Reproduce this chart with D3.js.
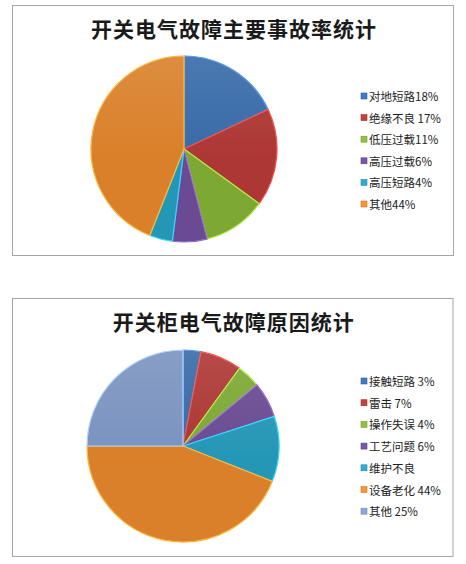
<!DOCTYPE html>
<html>
<head>
<meta charset="utf-8">
<script src="https://cdn.jsdelivr.net/npm/d3@7"></script>
<style>
  body { margin: 0; background: #ffffff; }
  svg { display: block; }
</style>
</head>
<body>
<div id="chart"></div>
<script>
// data
var topTitle = "开关电气故障主要事故率统计";
var topLabels = ["对地短路18%", "绝缘不良 17%", "低压过载11%", "高压过载6%", "高压短路4%", "其他44%"];
var topValues = [18, 17, 11, 6, 4, 44];

var bottomTitle = "开关柜电气故障原因统计";
var bottomLabels = ["接触短路 3%", "雷击 7%", "操作失误 4%", "工艺问题 6%", "维护不良", "设备老化 44%", "其他 25%"];
var bottomValues = [3, 7, 4, 6, 11, 44, 25];   // 维护不良 has no label, taken as the rest

var COLORS = ["#3F7AC2", "#C8403C", "#90C23C", "#7A56AA", "#2BAED2", "#FC9430", "#8DA9DC"];

var W = 466, H = 564;
var svg = d3.select("#chart")
            .append("svg")
              .attr("width", W)
              .attr("height", H);
var defs = svg.append("defs");

function pie_chart(id, box, title, titleY, labels, values, center, radius, legendX, legendY, legendStep) {
  var g = svg.append("g").attr("class", id);

  // frame
  g.append("rect")
      .attr("x", box.x)
      .attr("y", box.y)
      .attr("width", box.w)
      .attr("height", box.h)
      .attr("fill", "#ffffff")
      .attr("stroke", "#a6a6a6")
      .attr("stroke-width", 1);

  g.append("text")
      .attr("x", box.x + box.w / 2 + 1)
      .attr("y", titleY)
      .attr("text-anchor", "middle")
      .attr("dominant-baseline", "central")
      .attr("font-family", "Noto Sans CJK SC")
      .attr("font-weight", "bold")
      .attr("font-size", "21px")
      .attr("letter-spacing", "1px")
      .attr("fill", "#1a1a1a")
      .text(title);

  // one radial gradient per slice colour, gives the bevelled rim
  COLORS.forEach(function(c, i) {
    var gr = defs.append("radialGradient")
        .attr("id", id + "-grad" + i)
        .attr("gradientUnits", "userSpaceOnUse")
        .attr("cx", center.x)
        .attr("cy", center.y)
        .attr("r", radius);
    var base = d3.color(c);
    gr.append("stop").attr("offset", "0").attr("stop-color", base);
    gr.append("stop").attr("offset", "0.88").attr("stop-color", base);
    gr.append("stop").attr("offset", "0.95").attr("stop-color", base.brighter(0.3));
    gr.append("stop").attr("offset", "1").attr("stop-color", base.darker(0.4));
  });

  var pie = d3.pie().sort(null).value(function(d) { return d; });
  var arc = d3.arc().innerRadius(0).outerRadius(radius);
  var arcs = pie(values);

  var pg = g.append("g")
      .attr("transform", "translate(" + center.x + "," + center.y + ")");

  pg.selectAll("path.slice")
    .data(arcs)
    .enter()
    .append("path")
      .attr("class", "slice")
      .attr("d", arc)
      .attr("fill", function(d, i) { return "url(#" + id + "-grad" + i + ")"; })
      .attr("stroke", function(d, i) { return d3.color(COLORS[i]).brighter(0.6); })
      .attr("stroke-width", 1.2)
      .attr("stroke-linejoin", "round");

  // a little light from the top
  var shade = defs.append("linearGradient")
      .attr("id", id + "-shade")
      .attr("x1", 0).attr("y1", 0).attr("x2", 0).attr("y2", 1);
  shade.append("stop").attr("offset", "0").attr("stop-color", "#ffffff").attr("stop-opacity", 0.1);
  shade.append("stop").attr("offset", "0.55").attr("stop-color", "#ffffff").attr("stop-opacity", 0);
  pg.append("circle")
      .attr("r", radius)
      .attr("fill", "url(#" + id + "-shade)")
      .attr("pointer-events", "none");

  // legend
  var lg = g.selectAll("g.legend")
    .data(labels)
    .enter()
    .append("g")
      .attr("class", "legend")
      .attr("transform", function(d, i) { return "translate(" + legendX + "," + (legendY + i * legendStep) + ")"; });

  lg.append("rect")
      .attr("x", 0)
      .attr("y", -3)
      .attr("width", 6)
      .attr("height", 6)
      .attr("fill", function(d, i) { return COLORS[i]; })
      .attr("stroke", function(d, i) { return d3.color(COLORS[i]).darker(0.6); })
      .attr("stroke-width", 0.6);

  lg.append("text")
      .attr("x", 8)
      .attr("y", 0)
      .attr("dominant-baseline", "central")
      .attr("font-family", "Noto Sans CJK SC")
      .attr("font-size", "11.5px")
      .attr("fill", "#222222")
      .text(function(d) { return d; });
}

pie_chart("top", {x: 12.5, y: 5.5, w: 441, h: 250}, topTitle, 28,
          topLabels, topValues, {x: 184, y: 149}, 93, 361, 96, 21.6);
pie_chart("bottom", {x: 12.5, y: 298.5, w: 440.5, h: 258}, bottomTitle, 321,
          bottomLabels, bottomValues, {x: 183, y: 446}, 96, 361, 381, 21.7);
</script>
</body>
</html>
